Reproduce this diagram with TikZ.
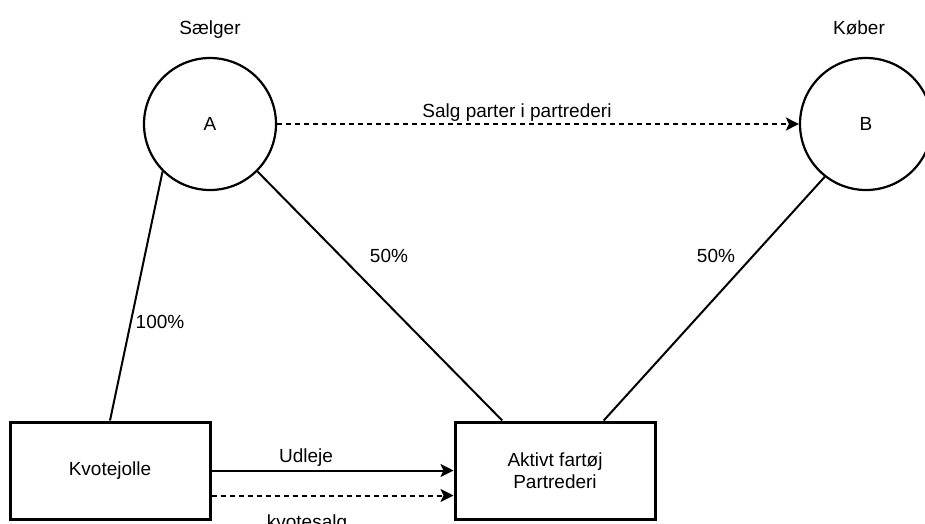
\documentclass[tikz,border=0pt]{standalone}
\usepackage{fontspec}
\setmainfont{Liberation Sans}
\usetikzlibrary{arrows.meta,calc}
\colorlet{deal line color}{black}
\tikzset{
    x={1pt},
    y={-1pt},
    every node/.style={
        font={\fontsize{19}{22}\selectfont},
    },
    party/.style={
        circle, draw={deal line color},
        line width={2.2pt},
        minimum size={132},
        inner sep=0pt,
    },
    vessel/.style={
        rectangle, draw={deal line color},
        line width={3pt},
        minimum width={200},
        minimum height={97},
        align=center,
    },
    share line/.style={
        draw={deal line color},
        line width={2pt},
    },
    flow arrow/.style={
        share line,
        -{Stealth[length=13pt,width=13pt,inset=3pt]},
    },
    sale arrow/.style={
        flow arrow,
        dash pattern=on 5pt off 4pt,
    },
    flow label/.style={
        anchor=base,
        inner sep=0pt,
    },
}

\begin{document}
\begin{tikzpicture}
\useasboundingbox (0,0) rectangle (925,523);
% parties
\node[party] (seller) at (210,124) {A};
\node[party] (buyer) at (866,124) {B};
\node[flow label] (seller title) at (210,34) {Sælger};
\node[flow label] (buyer title) at (859,34) {Køber};
% vessels
\node[vessel] (jolle) at (110,470.5) {Kvotejolle};
\node[vessel] (rederi) at (555,470.5) {Aktivt fartøj\\Partrederi};
\coordinate (rederi left top) at ($(rederi.north west)!0.24!(rederi.north east)$);
\coordinate (rederi right top) at ($(rederi.north west)!0.74!(rederi.north east)$);
% ownership
\draw[share line] (seller.225) -- (jolle.north);
\draw[share line] (seller.315) -- (rederi left top);
\draw[share line] (buyer.232) -- (rederi right top);
\node[flow label] at (160,328) {100\%};
\node[flow label] at (389,262) {50\%};
\node[flow label] at (716,262) {50\%};
% transactions
\draw[sale arrow] (seller.east) -- (buyer.west);
\node[flow label] at (517,117) {Salg parter i partrederi};
\draw[flow arrow] (jolle.east) -- (rederi.west);
\node[flow label] at (306,462) {Udleje};
\draw[sale arrow] ([yshift=-25pt]jolle.east) -- ([yshift=-25pt]rederi.west);
\node[flow label] at (307,528) {kvotesalg};
\end{tikzpicture}
\end{document}
